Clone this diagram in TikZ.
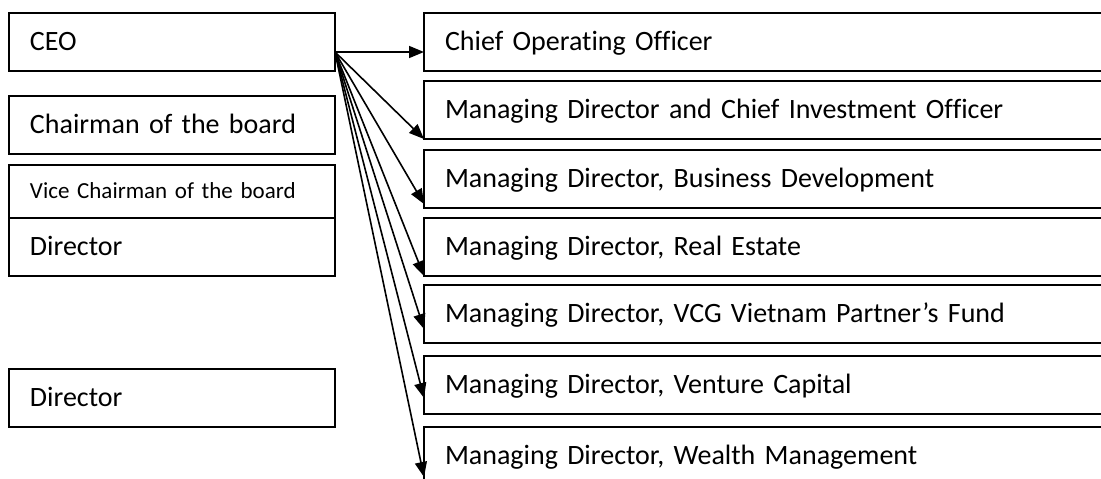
\documentclass[tikz,border=0pt]{standalone}
\usepackage{fontspec}
\setmainfont{Carlito}[Ligatures=CommonOff]
\usetikzlibrary{arrows.meta}
\begin{document}
\begin{tikzpicture}[x=1pt,y=-1pt]
\tikzset{
  orgbox/.style={draw, line width=2pt, rectangle, anchor=north west, outer sep=0pt,
    inner xsep=21pt, inner ysep=0pt, align=left,
    font=\fontsize{28}{34}\selectfont, text height=37pt, text depth=21pt},
  leftbox/.style={orgbox, text width=284pt},
  rightbox/.style={orgbox, text width=658pt},
  smallbox/.style={leftbox, font=\fontsize{23}{28}\selectfont, text height=33pt, text depth=20pt},
  link/.style={line width=1.6pt, -{Triangle[length=15pt,width=12pt]}}
}
\useasboundingbox (0,0) rectangle (1101,479);
\clip (0,0) rectangle (1101,479);
% left column
\node[leftbox] (ceo) at (9,13) {CEO};
\node[leftbox] (chair) at (9,96) {Chairman of the board};
\node[smallbox] (vice) at (9,165) {Vice Chairman of the board};
\node[leftbox] (dir1) at (9,218) {Director};
\node[leftbox] (dir2) at (9,369) {Director};
% right column
\node[rightbox] (coo) at (424,13) {Chief Operating Officer};
\node[rightbox] (cio) at (424,81) {Managing Director and Chief Investment Officer};
\node[rightbox] (bd) at (424,150) {Managing Director, Business Development};
\node[rightbox] (re) at (424,218) {Managing Director, Real Estate};
\node[rightbox] (vcg) at (424,285) {Managing Director, VCG Vietnam Partner’s Fund};
\node[rightbox] (vc) at (424,356) {Managing Director, Venture Capital};
\node[rightbox] (wm) at (424,427) {Managing Director, Wealth Management};
% connectors
\coordinate (src) at ([yshift=-39pt]ceo.north east);
\draw[link] (src) -- ([yshift=-39pt]coo.north west);
\draw[link] (src) -- (cio.south west);
\draw[link] (src) -- ([yshift=4pt]bd.south west);
\draw[link] (src) -- (re.south west);
\draw[link] (src) -- ([yshift=14pt]vcg.south west);
\draw[link] (src) -- ([yshift=16pt]vc.south west);
\draw[link] (src) -- ([yshift=-50pt]wm.north west);
\end{tikzpicture}
\end{document}
